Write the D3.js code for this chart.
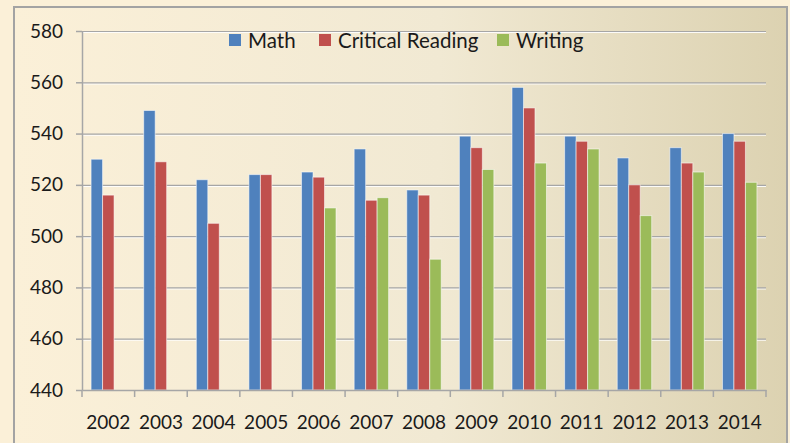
<!DOCTYPE html>
<html><head><meta charset="utf-8">
<script src="https://cdn.jsdelivr.net/npm/d3@7"></script>
<style>html,body{margin:0;padding:0;background:#fbf0d8;}svg{display:block;}</style>
</head><body>
<svg id="c" width="790" height="443"></svg>
<script>
const years = ["2002","2003","2004","2005","2006","2007","2008","2009","2010","2011","2012","2013","2014"];
const seriesNames = ["Math","Critical Reading","Writing"];
const math    = [530,549,522,524,525,534,518,539,558,539,530.5,534.5,540];
const reading = [516,529,505,524,523,514,516,534.5,550,537,520,528.5,537];
const writing = [null,null,null,null,511,515,491,526,528.5,534,508,525,521];
const yTicks = [440,460,480,500,520,540,560,580];
const colors = ["#4f81bd","#c0504d","#9bbb59"];

(function(){
const svg = d3.select("#c");
const defs = svg.append("defs");
const g1 = defs.append("linearGradient").attr("id","bg").attr("x1","0").attr("x2","1").attr("y1","0").attr("y2","0");
g1.append("stop").attr("offset","0%").attr("stop-color","#fbf0d8");
g1.append("stop").attr("offset","55%").attr("stop-color","#f1e9d3");
g1.append("stop").attr("offset","100%").attr("stop-color","#dcd2b1");

svg.append("rect").attr("x",0).attr("y",0).attr("width",790).attr("height",443).attr("fill","#fbf0d8");
svg.append("rect").attr("x",14).attr("y",7).attr("width",773).attr("height",450)
  .attr("fill","url(#bg)").attr("stroke","#a3a3a3").attr("stroke-width",2);

const mL = 82, mR = 766, mT = 31, mB = 390;
const x0 = d3.scaleBand().domain(years).range([mL,mR]).padding(0);
const x1 = d3.scaleBand().domain(seriesNames).range([0,x0.bandwidth()]).paddingInner(0).paddingOuter(0.79);
const y = d3.scaleLinear().domain([440,580]).range([mB,mT]);

// gridlines
const grid = svg.append("g");
yTicks.filter(t=>t>440).forEach(t=>{
  grid.append("line").attr("x1",mL).attr("x2",mR).attr("y1",y(t)+1.5).attr("y2",y(t)+1.5).attr("stroke","#ffffff").attr("stroke-width",1.2).attr("opacity",0.9);
  grid.append("line").attr("x1",mL).attr("x2",mR).attr("y1",y(t)+0.5).attr("y2",y(t)+0.5).attr("stroke","#a6a6a6").attr("stroke-width",1.2);
});

// bars
const data = [math,reading,writing];
const bars = svg.append("g");
years.forEach((yr,i)=>{
  seriesNames.forEach((s,j)=>{
    const v = data[j][i];
    if(v==null) return;
    bars.append("rect")
      .attr("x",x0(yr)+x1(s)).attr("y",y(v))
      .attr("width",x1.bandwidth()).attr("height",y(440)-y(v))
      .attr("fill",colors[j]).attr("stroke","rgba(255,255,255,0.55)").attr("stroke-width",1);
  });
});

// axes
const font = "Lato, 'Open Sans', sans-serif";
const yAxis = d3.axisLeft(y).tickValues(yTicks).tickSize(6).tickPadding(13).tickSizeOuter(0);
const ya = svg.append("g").attr("transform",`translate(${mL},0)`).call(yAxis);
ya.selectAll("text").attr("font-family",font).attr("font-size",19).attr("fill","#1a1a1a");
ya.selectAll("line,path").attr("stroke","#a6a6a6").attr("stroke-width",1.5);

const xAxis = d3.axisBottom(x0).tickSize(0).tickPadding(0).tickSizeOuter(0);
const xa = svg.append("g").attr("transform",`translate(0,${mB})`).call(xAxis);
xa.selectAll("text").attr("font-family",font).attr("font-size",19).attr("fill","#1a1a1a").attr("dy",0).attr("y",39);
xa.selectAll("path").attr("stroke","#a6a6a6").attr("stroke-width",1.5);
const bounds = years.map(yr=>x0(yr)).concat([mR]);
xa.selectAll(".bt").data(bounds).enter().append("line").attr("class","bt")
  .attr("x1",d=>d).attr("x2",d=>d).attr("y1",0).attr("y2",7).attr("stroke","#a6a6a6").attr("stroke-width",1.5);

// legend
const legX = [229,319,497];
const lg = svg.append("g");
seriesNames.forEach((s,j)=>{
  lg.append("rect").attr("x",legX[j]).attr("y",34).attr("width",12).attr("height",12).attr("fill",colors[j]);
  lg.append("text").attr("x",legX[j]+19).attr("y",47.5).attr("font-family",font).attr("font-size",20.5).attr("fill","#1a1a1a").text(s);
});
})();
</script>
</body></html>
